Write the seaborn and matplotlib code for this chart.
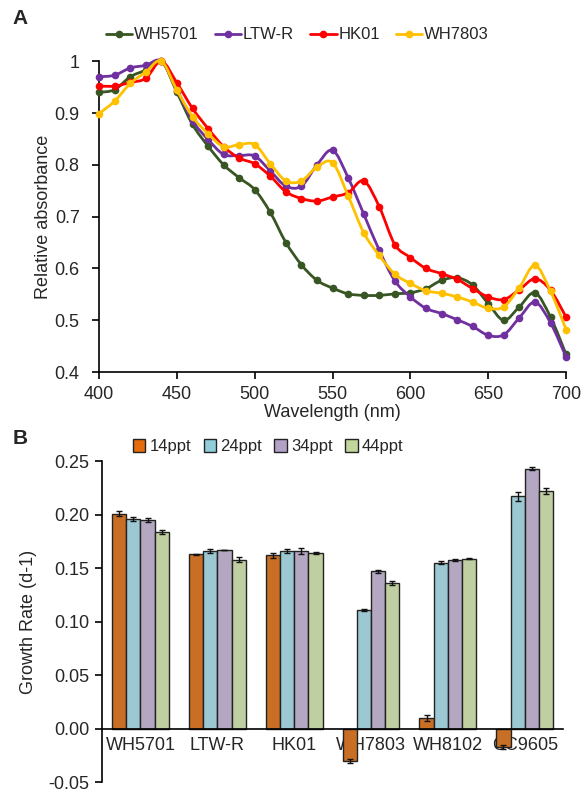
import numpy as np
import pandas as pd
import matplotlib
matplotlib.use("Agg")
import matplotlib.pyplot as plt
from matplotlib.lines import Line2D
from matplotlib.patches import Patch, PathPatch
from matplotlib.path import Path
from matplotlib.ticker import FuncFormatter, MultipleLocator
import seaborn as sns

# ---- Panel A: absorption spectra (normalised) ----
wavelength = list(range(400, 701, 10))

wh5701 = [0.940, 0.945, 0.970, 0.983, 1.000, 0.940, 0.878, 0.836, 0.800, 0.775,
          0.752, 0.708, 0.650, 0.607, 0.577, 0.562, 0.551, 0.548, 0.548, 0.551,
          0.553, 0.561, 0.577, 0.582, 0.568, 0.532, 0.500, 0.526, 0.553, 0.506,
          0.434]
ltw_r = [0.970, 0.973, 0.987, 0.992, 1.000, 0.945, 0.885, 0.849, 0.820, 0.818,
         0.817, 0.788, 0.759, 0.759, 0.800, 0.828, 0.775, 0.705, 0.635, 0.576,
         0.545, 0.523, 0.513, 0.501, 0.488, 0.471, 0.472, 0.505, 0.535, 0.495,
         0.429]
hk01 = [0.952, 0.952, 0.959, 0.967, 1.000, 0.958, 0.909, 0.870, 0.835, 0.813,
        0.802, 0.778, 0.748, 0.735, 0.730, 0.738, 0.746, 0.769, 0.719, 0.646,
        0.621, 0.600, 0.590, 0.579, 0.561, 0.545, 0.540, 0.559, 0.580, 0.558,
        0.506]
wh7803 = [0.899, 0.923, 0.957, 0.979, 1.000, 0.944, 0.893, 0.860, 0.835, 0.839,
          0.839, 0.802, 0.769, 0.769, 0.796, 0.804, 0.740, 0.669, 0.625, 0.589,
          0.571, 0.557, 0.552, 0.545, 0.535, 0.523, 0.526, 0.563, 0.606, 0.556,
          0.482]

spectra_names = ["WH5701", "LTW-R", "HK01", "WH7803"]
spectra_colors = ["#375623", "#7030A0", "#FF0000", "#FFC000"]

# ---- Panel B: growth rates at four salinities ----
strains = ["WH5701", "LTW-R", "HK01", "WH7803", "WH8102", "CC9605"]
salinities = ["14ppt", "24ppt", "34ppt", "44ppt"]
rate_14 = [0.201, 0.163, 0.162, -0.030, 0.010, -0.017]
rate_24 = [0.196, 0.166, 0.166, 0.111, 0.155, 0.217]
rate_34 = [0.195, 0.167, 0.166, 0.147, 0.158, 0.243]
rate_44 = [0.184, 0.158, 0.164, 0.136, 0.159, 0.222]
err_14 = [0.002, 0.0005, 0.0025, 0.002, 0.003, 0.002]
err_24 = [0.0015, 0.0015, 0.0015, 0.001, 0.0015, 0.004]
err_34 = [0.002, 0.0003, 0.0025, 0.0015, 0.001, 0.0015]
err_44 = [0.002, 0.0025, 0.0008, 0.002, 0.0008, 0.0025]
bar_colors = ["#E46C0A", "#92CDDC", "#B3A2C7", "#C3D69B"]

LABEL_SIZE = 13
LEGEND_SIZE = 12


def smooth_path(xs, ys):
    """Cubic Bezier path through every point (Catmull-Rom tangents)."""
    pts = np.column_stack([xs, ys]).astype(float)
    n = len(pts)
    verts = [pts[0]]
    codes = [Path.MOVETO]
    for i in range(n - 1):
        p0 = pts[i - 1] if i > 0 else pts[i]
        p1 = pts[i]
        p2 = pts[i + 1]
        p3 = pts[i + 2] if i + 2 < n else pts[i + 1]
        c1 = p1 + (p2 - p0) / 6.0
        c2 = p2 - (p3 - p1) / 6.0
        verts.extend([c1, c2, p2])
        codes.extend([Path.CURVE4] * 3)
    return Path(verts, codes)


sns.set_theme(style="white")
plt.rcParams["font.family"] = ["Liberation Sans", "DejaVu Sans"]
plt.rcParams["axes.axisbelow"] = True

fig = plt.figure(figsize=(5.83, 7.95), dpi=100)

# ---------------- Panel A ----------------
axA = fig.add_axes([0.170, 0.532, 0.801, 0.391])
spec_df = pd.DataFrame({"Wavelength": wavelength, "WH5701": wh5701,
                        "LTW-R": ltw_r, "HK01": hk01, "WH7803": wh7803})
spec_long = spec_df.melt(id_vars="Wavelength", var_name="Strain",
                         value_name="Absorbance")
# points from seaborn, smooth connecting curves added per series
sns.lineplot(data=spec_long, x="Wavelength", y="Absorbance", hue="Strain",
             hue_order=spectra_names, palette=spectra_colors, marker="o",
             markersize=5.5, markeredgewidth=0, linewidth=0, legend=False,
             ax=axA, clip_on=False)
for k, (line, name, col) in enumerate(zip(axA.lines, spectra_names,
                                          spectra_colors)):
    line.set_zorder(3 + k * 0.1 + 0.05)
    sub = spec_long[spec_long["Strain"] == name]
    patch = PathPatch(smooth_path(sub["Wavelength"], sub["Absorbance"]),
                      facecolor="none", edgecolor=col, linewidth=2.0,
                      zorder=3 + k * 0.1, clip_on=False, capstyle="round",
                      joinstyle="round")
    axA.add_patch(patch)

axA.set_xlim(400, 700)
axA.set_ylim(0.4, 1.0)
axA.xaxis.set_major_locator(MultipleLocator(50))
axA.yaxis.set_major_locator(MultipleLocator(0.1))
axA.yaxis.set_major_formatter(FuncFormatter(lambda v, p: f"{v:g}"))
axA.set_xlabel("Wavelength (nm)", fontsize=LABEL_SIZE, labelpad=1)
axA.set_ylabel("Relative absorbance", fontsize=LABEL_SIZE, labelpad=2)
for s in ["top", "right"]:
    axA.spines[s].set_visible(False)
for s in ["left", "bottom"]:
    axA.spines[s].set_color("black")
    axA.spines[s].set_linewidth(1.2)
axA.tick_params(axis="both", which="major", direction="out", length=5,
                width=1.2, color="black", labelsize=LABEL_SIZE, bottom=True,
                left=True)
axA.tick_params(axis="y", pad=9)
axA.tick_params(axis="x", pad=5)

handlesA = [Line2D([0], [0], color=c, lw=2.0, marker="o", markersize=5.5,
                   markeredgewidth=0) for c in spectra_colors]
fig.legend(handlesA, spectra_names, loc="center", bbox_to_anchor=(0.51, 0.956),
           ncol=4, frameon=False, fontsize=LEGEND_SIZE, handlelength=1.6,
           handletextpad=0.1, columnspacing=0.95)
fig.text(0.022, 0.977, "A", fontsize=15, fontweight="bold", va="center")

# ---------------- Panel B ----------------
axB = fig.add_axes([0.175, 0.016, 0.791, 0.404])
rates = [rate_14, rate_24, rate_34, rate_44]
errs = [err_14, err_24, err_34, err_44]
growth_df = pd.DataFrame({
    "Strain": np.repeat(strains, len(salinities)),
    "Salinity": salinities * len(strains),
    "Rate": [rates[j][i] for i in range(len(strains))
             for j in range(len(salinities))],
})
sns.barplot(data=growth_df, x="Strain", y="Rate", hue="Salinity",
            order=strains, hue_order=salinities, palette=bar_colors,
            edgecolor="#222222", linewidth=1.0, width=0.74, errorbar=None,
            legend=False, ax=axB, zorder=1)

for cont, vals, ers in zip(axB.containers, rates, errs):
    xs = [b.get_x() + b.get_width() / 2 for b in cont]
    axB.errorbar(xs, vals, yerr=ers, fmt="none", ecolor="#111111",
                 elinewidth=1.0, capsize=2.5, capthick=1.0, zorder=3)

axB.set_xlim(-0.5, len(strains) - 0.5)
axB.set_ylim(-0.05, 0.25)
axB.yaxis.set_major_locator(MultipleLocator(0.05))
axB.yaxis.set_major_formatter(FuncFormatter(lambda v, p: f"{v:.2f}"))
axB.set_xlabel("")
axB.set_ylabel("Growth Rate (d-1)", fontsize=LABEL_SIZE, labelpad=8)
axB.spines["top"].set_visible(False)
axB.spines["right"].set_visible(False)
axB.spines["bottom"].set_position(("data", 0))
for s in ["left", "bottom"]:
    axB.spines[s].set_color("black")
    axB.spines[s].set_linewidth(1.2)
axB.tick_params(axis="y", direction="out", length=5, width=1.2,
                color="black", labelsize=LABEL_SIZE, left=True, pad=4)
axB.tick_params(axis="x", length=0, labelsize=LABEL_SIZE, pad=6)

handlesB = [Patch(facecolor=c, edgecolor="#222222", linewidth=1.0)
            for c in bar_colors]
fig.legend(handlesB, salinities, loc="center", bbox_to_anchor=(0.46, 0.438),
           ncol=4, frameon=False, fontsize=LEGEND_SIZE, handlelength=0.75,
           handleheight=0.75, handletextpad=0.25, columnspacing=0.75)
fig.text(0.022, 0.449, "B", fontsize=15, fontweight="bold", va="center")

fig.savefig("out.png", dpi=100, facecolor="white")
